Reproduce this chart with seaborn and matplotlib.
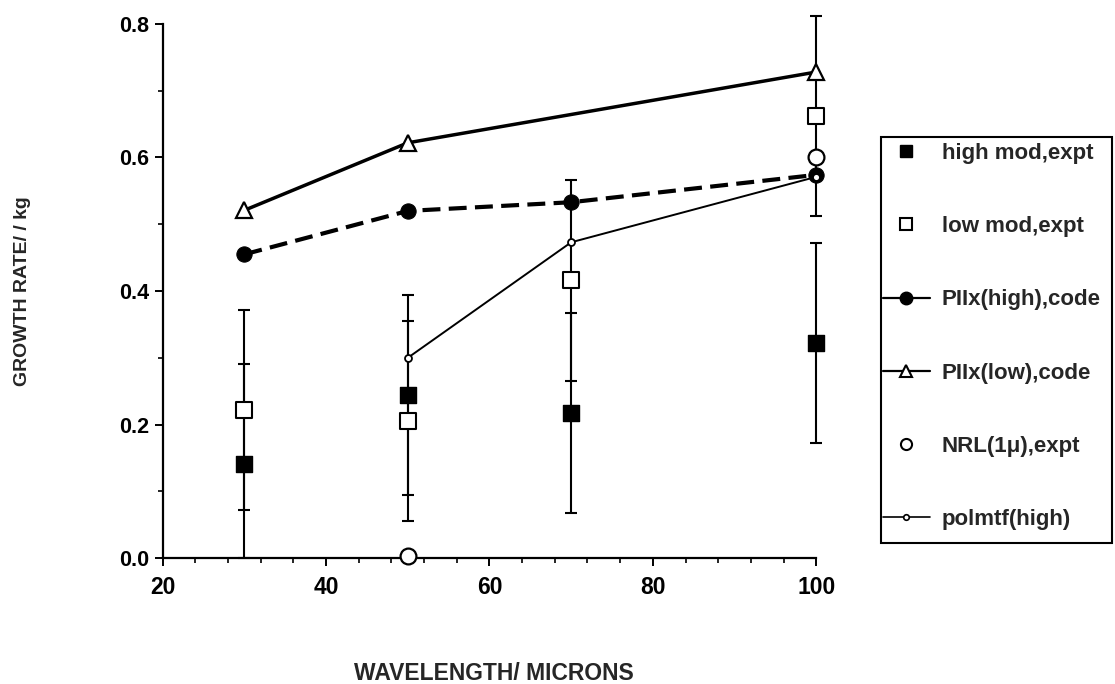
import matplotlib
matplotlib.use("Agg")
import matplotlib.pyplot as plt
from matplotlib.lines import Line2D
from matplotlib.patches import Rectangle
from matplotlib.ticker import MultipleLocator, FormatStrFormatter
import seaborn as sns

# Experimental points (two modulation levels) with their error half-widths
wavelength_expt = [30, 50, 70, 100]
high_mod_expt = [0.141, 0.244, 0.217, 0.322]
low_mod_expt = [0.222, 0.205, 0.416, 0.662]
expt_error = [0.15, 0.15, 0.15, 0.15]

# Code predictions
wavelength_piix_high = [30, 50, 70, 100]
piix_high_code = [0.455, 0.520, 0.533, 0.574]

wavelength_piix_low = [30, 50, 100]
piix_low_code = [0.521, 0.622, 0.728]

wavelength_polmtf = [50, 70, 100]
polmtf_high = [0.300, 0.473, 0.571]

# NRL measurements
wavelength_nrl = [50, 100]
nrl_expt = [0.003, 0.600]

legend_labels = ["high mod,expt", "low mod,expt", "PIIx(high),code",
                 "PIIx(low),code", "NRL(1\u03bc),expt", "polmtf(high)"]

sns.set_theme(style="ticks")
plt.rcParams["font.family"] = ["Liberation Sans", "DejaVu Sans"]
plt.rcParams["font.weight"] = "bold"

fig = plt.figure(figsize=(11.15, 6.84), dpi=100)
ax = fig.add_axes([0.146, 0.184, 0.586, 0.781])

# error bars (the lower end stops at the axis)
for y in (high_mod_expt, low_mod_expt):
    lower = [min(e, v) for e, v in zip(expt_error, y)]
    ax.errorbar(wavelength_expt, y, yerr=[lower, expt_error], fmt="none", ecolor="black",
                elinewidth=1.5, capsize=4, capthick=1.5, clip_on=False, zorder=1)

# model curves
sns.lineplot(x=wavelength_piix_low, y=piix_low_code, ax=ax, color="black", lw=2.5,
             marker="^", markersize=11, markerfacecolor="white", markeredgecolor="black",
             markeredgewidth=1.6, clip_on=False, zorder=3)
sns.lineplot(x=wavelength_piix_high, y=piix_high_code, ax=ax, color="black", lw=3,
             linestyle=(0, (4.3, 2.0)), marker="o", markersize=11,
             markerfacecolor="black", markeredgecolor="black", clip_on=False, zorder=3)
sns.lineplot(x=wavelength_polmtf, y=polmtf_high, ax=ax, color="black", lw=1.4,
             marker="o", markersize=5, markerfacecolor="white", markeredgecolor="black",
             markeredgewidth=1.3, clip_on=False, zorder=4)

# measured points
sns.scatterplot(x=wavelength_expt, y=high_mod_expt, ax=ax, marker="s", s=130,
                color="black", edgecolor="black", linewidth=1, clip_on=False, zorder=5)
sns.scatterplot(x=wavelength_expt, y=low_mod_expt, ax=ax, marker="s", s=130,
                facecolor="white", edgecolor="black", linewidth=1.5, clip_on=False, zorder=5)
sns.scatterplot(x=wavelength_nrl, y=nrl_expt, ax=ax, marker="o", s=130,
                facecolor="white", edgecolor="black", linewidth=1.6, clip_on=False, zorder=5)

ax.set_xlim(20, 100)
ax.set_ylim(0, 0.8)
ax.xaxis.set_major_locator(MultipleLocator(20))
ax.xaxis.set_minor_locator(MultipleLocator(4))
ax.yaxis.set_major_locator(MultipleLocator(0.2))
ax.yaxis.set_minor_locator(MultipleLocator(0.1))
ax.yaxis.set_major_formatter(FormatStrFormatter("%.1f"))
sns.despine(ax=ax)
for side in ("left", "bottom"):
    ax.spines[side].set_linewidth(1.6)
    ax.spines[side].set_color("black")
ax.tick_params(which="major", direction="out", length=6, width=1.4, color="black",
               labelcolor="black")
ax.tick_params(which="minor", direction="out", length=3.5, width=1.2, color="black")
ax.tick_params(axis="x", which="major", labelsize=16.5, pad=7)
ax.tick_params(axis="y", which="major", labelsize=15.5, pad=4)
for lab in ax.get_xticklabels() + ax.get_yticklabels():
    lab.set_fontweight("bold")
ax.set_xlabel("")
ax.set_ylabel("")

fig.text(0.02, 0.575, "GROWTH RATE/ / kg", rotation=90, ha="center", va="center",
         fontsize=14, fontweight="bold")
fig.text(0.443, 0.016, "WAVELENGTH/ MICRONS", ha="center", va="center",
         fontsize=16.5, fontweight="bold")

handles = [
    Line2D([], [], ls="none", marker="s", markersize=8, mfc="black", mec="black"),
    Line2D([], [], ls="none", marker="s", markersize=8, mfc="white", mec="black", mew=1.5),
    Line2D([], [], color="black", lw=1.6, marker="o", markersize=9, mfc="black", mec="black"),
    Line2D([], [], color="black", lw=1.6, marker="^", markersize=8, mfc="white", mec="black", mew=1.5),
    Line2D([], [], ls="none", marker="o", markersize=8, mfc="white", mec="black", mew=1.5),
    Line2D([], [], color="black", lw=1.2, marker="o", markersize=4, mfc="white", mec="black", mew=1.2),
]
leg = ax.legend(handles, legend_labels, loc="upper left",
                bbox_to_anchor=(883 / 1115, 1 - 143 / 684), bbox_transform=fig.transFigure,
                borderaxespad=0, frameon=False, fontsize=16, handlelength=2.1,
                handletextpad=0.55, labelspacing=2.35, borderpad=0)
for t in leg.get_texts():
    t.set_fontweight("bold")

# legend box
fig.patches.append(Rectangle((881 / 1115, 1 - 543 / 684), 231 / 1115, 406 / 684,
                             transform=fig.transFigure, fill=False,
                             edgecolor="black", linewidth=1.5))

fig.savefig("out.png", dpi=100)
